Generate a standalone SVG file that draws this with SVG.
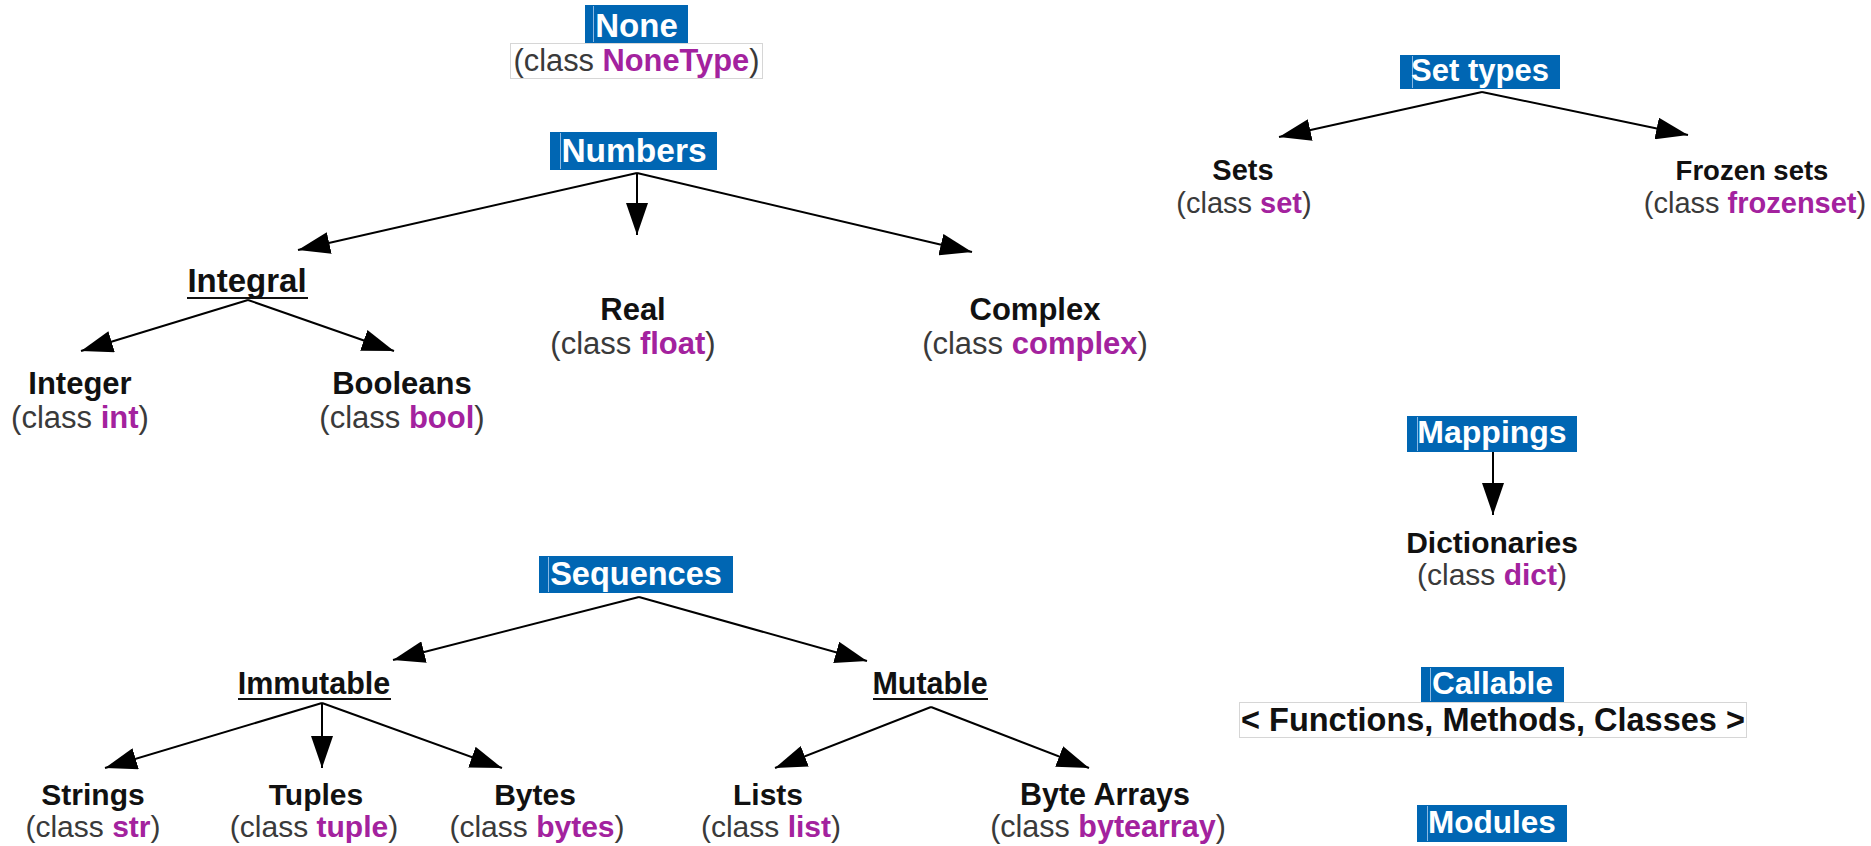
<svg xmlns="http://www.w3.org/2000/svg" width="1871" height="846" viewBox="0 0 1871 846">
  <defs>
    <marker id="arrow" markerUnits="userSpaceOnUse" markerWidth="32" markerHeight="22" refX="32" refY="11" orient="auto">
      <path d="M0,0 L32,11 L0,22 z" fill="#000"/>
    </marker>
  </defs>
  <style>
    text { font-family: "Liberation Sans", Arial, sans-serif; }
    .hdr .bg { fill: #0066b3; }
    .hdr .caret { stroke: #8ab8e3; stroke-width: 1; }
    .hdr text { fill: #ffffff; font-weight: bold; text-anchor: middle; }
    .plain { fill: #ffffff; stroke: #d6d6d6; stroke-width: 1; }
    .lbl { fill: #111111; font-weight: bold; text-anchor: middle; }
    .cls { fill: #3a3a3a; text-anchor: middle; }
    .cls .k { fill: #a3229e; font-weight: bold; }
    .ul { stroke: #111111; stroke-width: 2; }
    .conn line { stroke: #000000; stroke-width: 2; marker-end: url(#arrow); }
  </style>

  <rect width="1871" height="846" fill="#ffffff"/>

  <!-- arrows -->
  <g id="connectors" class="conn">
    <line x1="637" y1="173" x2="298" y2="250"/>
    <line x1="637" y1="173" x2="637" y2="235"/>
    <line x1="637" y1="173" x2="972" y2="252"/>
    <line x1="248" y1="300" x2="81" y2="351"/>
    <line x1="248" y1="300" x2="394" y2="351"/>
    <line x1="1482" y1="92" x2="1279" y2="137"/>
    <line x1="1482" y1="92" x2="1688" y2="135"/>
    <line x1="1493" y1="452" x2="1493" y2="515"/>
    <line x1="639" y1="597" x2="393" y2="660"/>
    <line x1="639" y1="597" x2="867" y2="661"/>
    <line x1="322" y1="703" x2="105" y2="768"/>
    <line x1="322" y1="703" x2="322" y2="768"/>
    <line x1="322" y1="703" x2="502" y2="768"/>
    <line x1="931" y1="707" x2="775" y2="768"/>
    <line x1="931" y1="707" x2="1089" y2="768"/>
  </g>

  <!-- None -->
  <g id="none" class="hdr">
    <rect class="bg" x="585" y="5" width="103" height="38"/>
    <line class="caret" x1="593.5" y1="6" x2="593.5" y2="42"/>
    <text x="636.5" y="37" font-size="33">None</text>
  </g>
  <g id="nonetype">
    <rect class="plain" x="510.5" y="43.5" width="252" height="35"/>
    <text class="cls" x="636.5" y="71" font-size="30.8">(class <tspan class="k">NoneType</tspan>)</text>
  </g>

  <!-- Numbers -->
  <g id="numbers" class="hdr">
    <rect class="bg" x="550" y="132" width="167" height="38"/>
    <line class="caret" x1="560.5" y1="133" x2="560.5" y2="169"/>
    <text x="634" y="162" font-size="33.5">Numbers</text>
  </g>
  <g id="integral">
    <text class="lbl" x="247" y="292" font-size="33">Integral</text>
    <line class="ul" x1="187" y1="298" x2="308" y2="298"/>
  </g>
  <g id="real">
    <text class="lbl" x="633" y="320" font-size="31">Real</text>
    <text class="cls" x="633" y="354" font-size="31">(class <tspan class="k">float</tspan>)</text>
  </g>
  <g id="complex">
    <text class="lbl" x="1035" y="320" font-size="31">Complex</text>
    <text class="cls" x="1035" y="354" font-size="31">(class <tspan class="k">complex</tspan>)</text>
  </g>
  <g id="integer">
    <text class="lbl" x="80" y="394" font-size="31">Integer</text>
    <text class="cls" x="80" y="428" font-size="31">(class <tspan class="k">int</tspan>)</text>
  </g>
  <g id="booleans">
    <text class="lbl" x="402" y="394" font-size="31">Booleans</text>
    <text class="cls" x="402" y="428" font-size="31">(class <tspan class="k">bool</tspan>)</text>
  </g>

  <!-- Set types -->
  <g id="settypes" class="hdr">
    <rect class="bg" x="1400" y="55" width="160" height="34"/>
    <line class="caret" x1="1412.5" y1="56" x2="1412.5" y2="88"/>
    <text x="1480" y="81" font-size="31">Set types</text>
  </g>
  <g id="sets">
    <text class="lbl" x="1243" y="180" font-size="29">Sets</text>
    <text class="cls" x="1244" y="213" font-size="29">(class <tspan class="k">set</tspan>)</text>
  </g>
  <g id="frozensets">
    <text class="lbl" x="1752" y="180" font-size="27.5">Frozen sets</text>
    <text class="cls" x="1755" y="213" font-size="29">(class <tspan class="k">frozenset</tspan>)</text>
  </g>

  <!-- Mappings -->
  <g id="mappings" class="hdr">
    <rect class="bg" x="1407" y="416" width="170" height="36"/>
    <line class="caret" x1="1417.5" y1="417" x2="1417.5" y2="451"/>
    <text x="1492" y="443" font-size="32">Mappings</text>
  </g>
  <g id="dictionaries">
    <text class="lbl" x="1492" y="553" font-size="30">Dictionaries</text>
    <text class="cls" x="1492" y="585" font-size="30">(class <tspan class="k">dict</tspan>)</text>
  </g>

  <!-- Sequences -->
  <g id="sequences" class="hdr">
    <rect class="bg" x="539" y="556" width="194" height="37"/>
    <line class="caret" x1="548.5" y1="557" x2="548.5" y2="592"/>
    <text x="636" y="585" font-size="32.5">Sequences</text>
  </g>
  <g id="immutable">
    <text class="lbl" x="314" y="694" font-size="30.5">Immutable</text>
    <line class="ul" x1="238" y1="699" x2="391" y2="699"/>
  </g>
  <g id="mutable">
    <text class="lbl" x="930" y="694" font-size="30.5">Mutable</text>
    <line class="ul" x1="873" y1="699" x2="988" y2="699"/>
  </g>
  <g id="strings">
    <text class="lbl" x="93" y="805" font-size="30">Strings</text>
    <text class="cls" x="93" y="837" font-size="30">(class <tspan class="k">str</tspan>)</text>
  </g>
  <g id="tuples">
    <text class="lbl" x="316" y="805" font-size="30">Tuples</text>
    <text class="cls" x="314" y="837" font-size="30">(class <tspan class="k">tuple</tspan>)</text>
  </g>
  <g id="bytes">
    <text class="lbl" x="535" y="805" font-size="30">Bytes</text>
    <text class="cls" x="537" y="837" font-size="30">(class <tspan class="k">bytes</tspan>)</text>
  </g>
  <g id="lists">
    <text class="lbl" x="768" y="805" font-size="30">Lists</text>
    <text class="cls" x="771" y="837" font-size="30">(class <tspan class="k">list</tspan>)</text>
  </g>
  <g id="bytearrays">
    <text class="lbl" x="1105" y="805" font-size="30.5">Byte Arrays</text>
    <text class="cls" x="1108" y="837" font-size="30.5">(class <tspan class="k">bytearray</tspan>)</text>
  </g>

  <!-- Callable -->
  <g id="callable" class="hdr">
    <rect class="bg" x="1421" y="667" width="143" height="35"/>
    <line class="caret" x1="1430.5" y1="668" x2="1430.5" y2="701"/>
    <text x="1492.5" y="694" font-size="31.5">Callable</text>
  </g>
  <g id="callable-kinds">
    <rect class="plain" x="1239.5" y="702.5" width="507" height="35"/>
    <text class="lbl" x="1493" y="731" font-size="32.5">&lt; Functions, Methods, Classes &gt;</text>
  </g>

  <!-- Modules -->
  <g id="modules" class="hdr">
    <rect class="bg" x="1417" y="805" width="150" height="37"/>
    <line class="caret" x1="1427.5" y1="806" x2="1427.5" y2="841"/>
    <text x="1492" y="833" font-size="31.5">Modules</text>
  </g>
</svg>
